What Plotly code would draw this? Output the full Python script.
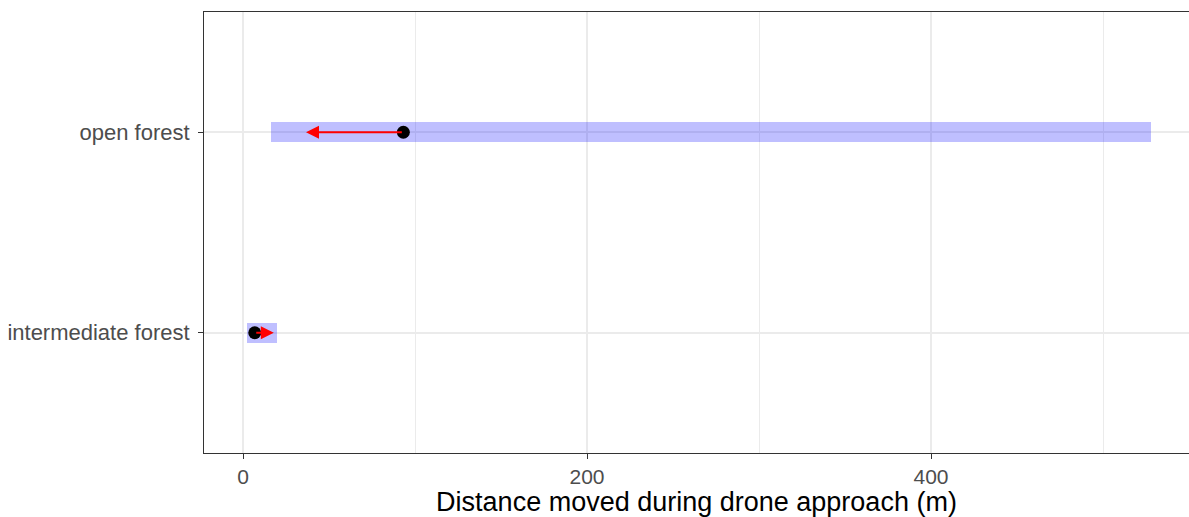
import plotly.graph_objects as go

categories = ["intermediate forest", "open forest"]
range_low = [2.3, 16.3]
range_high = [19.7, 528.0]
observed = [6.8, 93.2]
predicted = [17.9, 36.6]
x_ticks = [0, 200, 400]

fig = go.Figure()

fig.add_trace(go.Bar(
    y=categories,
    x=[h - l for l, h in zip(range_low, range_high)],
    base=range_low,
    orientation="h",
    width=0.1,
    marker=dict(color="rgba(0,0,255,0.25)", line=dict(width=0)),
    hoverinfo="skip",
))

fig.add_trace(go.Scatter(
    y=categories,
    x=observed,
    mode="markers",
    marker=dict(color="black", size=13),
))

for cat, o, p in zip(categories, observed, predicted):
    fig.add_annotation(
        x=p, y=cat, ax=o, ay=cat,
        xref="x", yref="y", axref="x", ayref="y",
        showarrow=True, arrowhead=2, arrowsize=1.3, arrowwidth=2,
        arrowcolor="red", text="", standoff=0, startstandoff=0,
    )

fig.update_layout(
    width=1189, height=517,
    margin=dict(l=204, r=0, t=12, b=64),
    plot_bgcolor="white", paper_bgcolor="white",
    showlegend=False,
    bargap=0,
    font=dict(family="Arial, Liberation Sans, sans-serif"),
    xaxis=dict(
        range=[-22.7, 550],
        tickvals=x_ticks,
        ticktext=[str(v) for v in x_ticks],
        showgrid=True, gridcolor="#EBEBEB", gridwidth=1.5,
        minor=dict(tickvals=[100, 300, 500], showgrid=True, gridcolor="#EBEBEB", gridwidth=0.8, ticks=""),
        zeroline=False,
        ticks="outside", ticklen=5, tickcolor="#333333", tickwidth=1.2,
        tickfont=dict(size=21, color="#4D4D4D"),
        showline=True, linecolor="#333333", linewidth=1, mirror=True,
        automargin=False,
        title=dict(text="Distance moved during drone approach (m)", font=dict(size=27, color="black"), standoff=11),
    ),
    yaxis=dict(
        type="category",
        categoryorder="array", categoryarray=categories,
        range=[-0.6, 1.6],
        showgrid=True, gridcolor="#EBEBEB", gridwidth=1.5,
        zeroline=False,
        ticks="outside", ticklen=5, tickcolor="#333333", tickwidth=1.2,
        tickfont=dict(size=22, color="#4D4D4D"),
        ticklabelstandoff=4,
        showline=True, linecolor="#333333", linewidth=1, mirror=True,
    ),
)

fig.write_html("out.html")
